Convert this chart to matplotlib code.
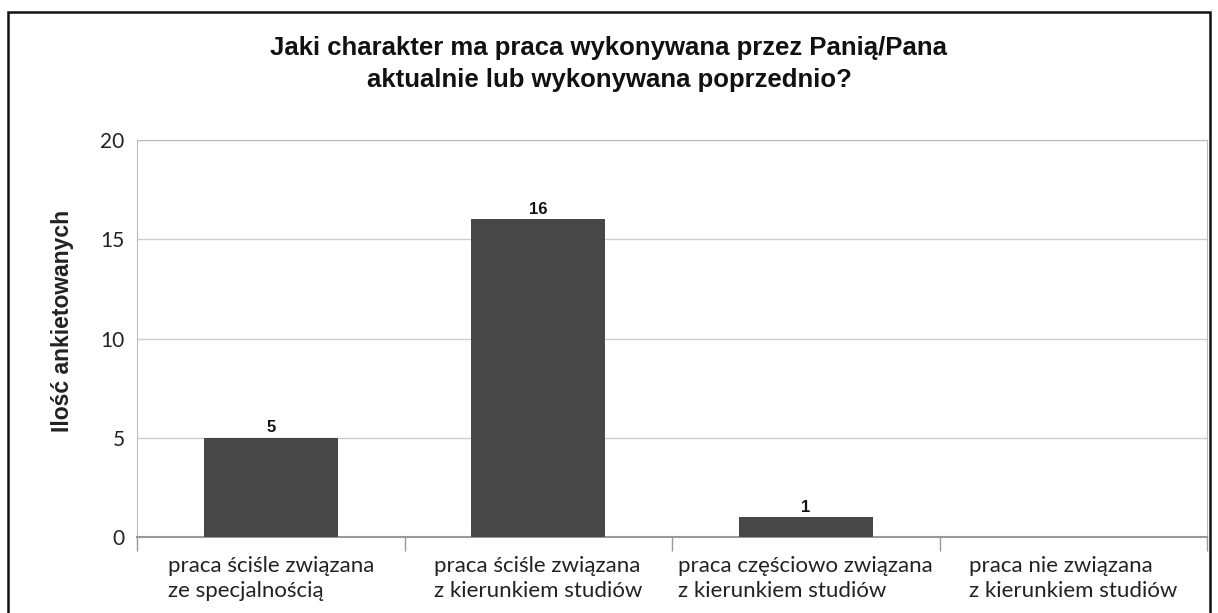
"""
Bar chart: character of the respondents' work
"""
import numpy as np
import matplotlib.pyplot as plt
from matplotlib.patches import Rectangle


categories = ['praca ściśle związana\nze specjalnością',
              'praca ściśle związana\nz kierunkiem studiów',
              'praca częściowo związana\nz kierunkiem studiów',
              'praca nie związana\nz kierunkiem studiów']
counts = [5, 16, 1, 0]
y_ticks = [0, 5, 10, 15, 20]

title = 'Jaki charakter ma praca wykonywana przez Panią/Pana\naktualnie lub wykonywana poprzednio?'
y_label = 'Ilość ankietowanych'

fig = plt.figure(figsize=(12.18, 6.13), dpi=100)
ax = fig.add_axes([137 / 1218, 1 - 537 / 613, 1070 / 1218, 397 / 613])

x = np.arange(len(categories))
bars = ax.bar(x, counts, width=0.5, color='#474747', zorder=3)

# value labels over the bars (none for an empty bar)
for b, v in zip(bars, counts):
    if v > 0:
        ax.text(b.get_x() + b.get_width() / 2, v + 0.12, str(v),
                ha='center', va='bottom', fontsize=12, fontweight='bold',
                family='Liberation Sans', color='#111111')

ax.set_xlim(-0.5, len(categories) - 0.5)
ax.set_ylim(0, 20)
ax.set_yticks(y_ticks)
ax.set_yticklabels([str(t) for t in y_ticks], fontsize=15, family='Lato', color='#222222')
ax.tick_params(axis='y', length=0, pad=9)

# category labels centered, lines left-aligned
ax.set_xticks(x)
ax.set_xticklabels(categories, fontsize=16, family='Lato', color='#222222',
                   multialignment='left', linespacing=1.3)
ax.tick_params(axis='x', length=0, pad=14)
ax.set_xticks(np.arange(len(categories) + 1) - 0.5, minor=True)
ax.tick_params(axis='x', which='minor', length=10, color='#999999', width=1)

ax.yaxis.grid(True, color='#cccccc', linewidth=1, zorder=0)
for side in ['left', 'right', 'top']:
    ax.spines[side].set_color('#bbbbbb')
ax.spines['bottom'].set_color('#999999')
ax.spines['bottom'].set_linewidth(1.5)

ax.set_ylabel(y_label, fontsize=16.5, fontweight='bold', family='Liberation Sans',
              color='#222222')
ax.yaxis.set_label_coords(-0.059, 0.545)

fig.text(0.5, 1 - 64 / 613, title, ha='center', va='center', fontsize=18.5,
         fontweight='bold', family='Liberation Sans', color='#111111',
         linespacing=1.45)

# outer frame of the chart
fig.patches.append(Rectangle((8 / 1218, -0.05), 1202 / 1218, 1.05 - 12 / 613,
                             transform=fig.transFigure, fill=False,
                             edgecolor='#111111', linewidth=1.8))

plt.savefig('out.png', dpi=100)
